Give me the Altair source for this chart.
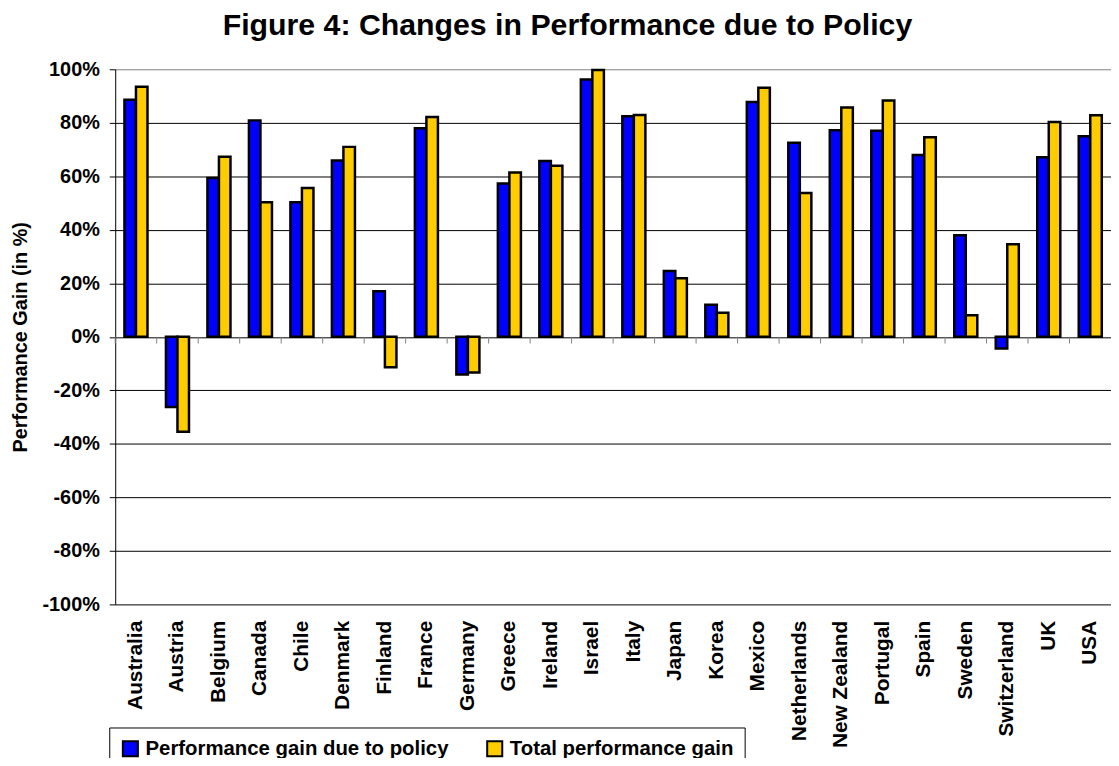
import altair as alt
import pandas as pd

countries = ["Australia", "Austria", "Belgium", "Canada", "Chile", "Denmark",
             "Finland", "France", "Germany", "Greece", "Ireland", "Israel",
             "Italy", "Japan", "Korea", "Mexico", "Netherlands", "New Zealand",
             "Portugal", "Spain", "Sweden", "Switzerland", "UK", "USA"]
policy_gain = [88.6, -26.2, 59.4, 80.9, 50.3, 65.9, 17.0, 78.0, -14.1, 57.3, 65.7, 96.2,
               82.4, 24.6, 12.0, 87.8, 72.5, 77.2, 77.0, 68.0, 38.0, -4.4, 67.1, 75.0]
total_gain = [93.5, -35.5, 67.3, 50.3, 55.6, 71.0, -11.4, 82.2, -13.3, 61.4, 63.9, 99.7,
              82.9, 21.9, 9.0, 93.1, 53.8, 85.7, 88.3, 74.6, 8.1, 34.6, 80.3, 82.8]
series_names = ["Performance gain due to policy", "Total performance gain"]
series_colors = ["#0000FF", "#FFCC00"]
y_ticks = [-100, -80, -60, -40, -20, 0, 20, 40, 60, 80, 100]

rows = []
for c, p, t in zip(countries, policy_gain, total_gain):
    rows.append({"country": c, "series": series_names[0], "value": p})
    rows.append({"country": c, "series": series_names[1], "value": t})
df = pd.DataFrame(rows)
df_c = pd.DataFrame({"country": countries})

FONT = "Liberation Sans"

x_axis = alt.Axis(title=None, labelAngle=270, labelFont=FONT, labelFontSize=21,
                  labelFontWeight="bold", labelColor="black", labelPadding=16,
                  ticks=False, tickSize=0, domain=False, grid=False,
                  labelOverlap=False)
x_scale = alt.Scale(paddingInner=0, paddingOuter=0)

y_scale = alt.Scale(domain=[-100, 100], nice=False)
y_axis = alt.Axis(values=y_ticks, labelExpr="datum.value + '%'",
                  title="Performance Gain (in %)",
                  labelFont=FONT, labelFontSize=20, labelFontWeight="bold",
                  labelColor="black", labelPadding=10, tickSize=6,
                  tickColor="black", domainColor="black",
                  gridColor={"condition": {"test": "datum.value >= 100", "value": "#808080"},
                             "value": "black"},
                  gridWidth=1,
                  titleFont=FONT, titleFontSize=20, titleFontWeight="bold",
                  titleColor="black", titlePadding=12)

bars = alt.Chart(df).mark_bar(stroke="black", strokeWidth=2.5).encode(
    x=alt.X("country:N", sort=countries, scale=x_scale, axis=x_axis),
    xOffset=alt.XOffset("series:N", sort=series_names,
                        scale=alt.Scale(paddingInner=0, paddingOuter=0.8)),
    y=alt.Y("value:Q", scale=y_scale, axis=y_axis),
    color=alt.Color(
        "series:N", sort=series_names,
        scale=alt.Scale(domain=series_names, range=series_colors),
        title=None,
        legend=alt.Legend(orient="none", legendX=-6, legendY=663,
                          direction="horizontal", columns=2,
                          symbolType="square", symbolSize=230,
                          symbolStrokeColor="black", symbolStrokeWidth=2,
                          symbolOpacity=1,
                          labelFont=FONT, labelFontSize=20.5, labelFontWeight="bold",
                          labelColor="black", labelOffset=5, columnPadding=34,
                          padding=11, strokeColor="black", fillColor="white",
                          labelLimit=400),
    ),
)

zero_ticks = alt.Chart(df_c).mark_rule(color="#808080", strokeWidth=1).encode(
    x=alt.X("country:N", sort=countries, bandPosition=0, scale=x_scale, axis=x_axis),
    y=alt.datum(0),
    y2=alt.datum(-2.5),
)

chart = alt.layer(bars, zero_ticks).properties(
    width=1003,
    height=539,
    autosize=alt.AutoSizeParams(type="none"),
    padding={"left": 108, "top": 59, "right": 0, "bottom": 152},
    title=alt.TitleParams(text="Figure 4: Changes in Performance due to Policy",
                          font=FONT, fontSize=30.5, fontWeight="bold", color="black",
                          anchor="middle", frame="group", dx=-46, offset=18),
).configure_view(stroke=None)

chart.save("out.html", embed_options={"renderer": "svg", "actions": False})
